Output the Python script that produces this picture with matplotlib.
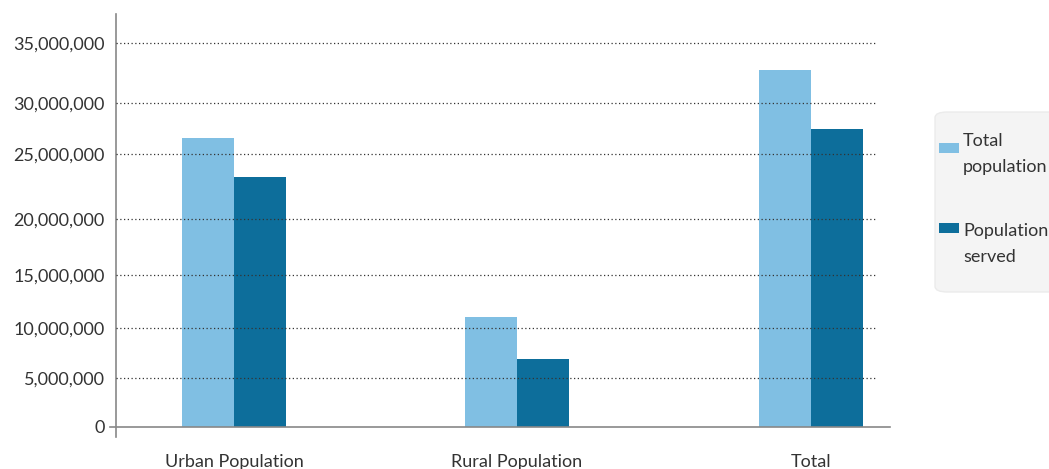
"""Population served vs total population, grouped bar chart."""

import matplotlib

matplotlib.use("Agg")
import matplotlib.pyplot as plt  # noqa: E402
import numpy as np  # noqa: E402
from matplotlib.patches import FancyBboxPatch, Rectangle  # noqa: E402
from matplotlib.ticker import FuncFormatter  # noqa: E402

categories = ["Urban Population", "Rural Population", "Total"]
total_population = [26_600_000, 11_000_000, 32_750_000]
population_served = [23_200_000, 6_900_000, 27_450_000]
series_labels = ["Total\npopulation", "Population\nserved"]
y_ticks = [0, 5_000_000, 10_000_000, 15_000_000, 20_000_000,
           25_000_000, 30_000_000, 35_000_000]

# The source chart spaces its gridlines unevenly; mimic that with a
# piecewise-linear scale through the tick values.
scale_values = [-5_000_000] + y_ticks + [45_000_000]
scale_pixels = [-49, 0, 49, 99, 152, 208, 273, 324, 384, 504]


def forward(v):
    return np.interp(v, scale_values, scale_pixels)


def inverse(p):
    return np.interp(p, scale_pixels, scale_values)


LIGHT = "#80bfe3"
DARK = "#0d6e9b"
W, H = 1049, 469
plt.rcParams["font.family"] = ["Lato", "DejaVu Sans"]

fig = plt.figure(figsize=(W / 100, H / 100), dpi=100)
ax = fig.add_axes([116 / W, 32 / H, 774 / W, 423 / H])
ax.set_yscale("function", functions=(forward, inverse))

x = np.array([0.0, 0.98, 2.0])  # slightly uneven group spacing, as in the source
width = 0.18
ax.bar(x - width / 2, total_population, width, color=LIGHT, zorder=2)
ax.bar(x + width / 2, population_served, width, color=DARK, zorder=2)

ax.set_xlim(-0.409, 2.274)
ax.set_ylim(-1_020_000, 37_400_000)

for t in y_ticks[1:]:
    ax.axhline(t, xmax=0.98, color="#333333", linestyle=(0, (1, 2)), linewidth=0.9, zorder=3)
ax.axhline(0, xmin=-0.008, color="#888888", linewidth=1.2, clip_on=False, zorder=4)

ax.set_yticks(y_ticks)
ax.yaxis.set_major_formatter(FuncFormatter(lambda v, _: f"{int(v):,}"))
ax.yaxis.set_minor_locator(matplotlib.ticker.NullLocator())
ax.set_xticks(x)
ax.set_xticklabels(categories)
ax.tick_params(axis="y", length=0, pad=8, labelsize=13, labelcolor="#333333")
ax.tick_params(axis="x", length=0, pad=12, labelsize=13, labelcolor="#333333")

for side in ("top", "right", "bottom"):
    ax.spines[side].set_visible(False)
ax.spines["left"].set_color("#888888")
ax.spines["left"].set_linewidth(1.2)

# Legend panel, drawn by hand so the padding matches the source (it runs off the right edge).
fig.patches.append(FancyBboxPatch(
    (935 / W, (H - 292) / H), 130 / W, 180 / H,
    boxstyle="round,pad=0,rounding_size=0.012",
    transform=fig.transFigure, facecolor="#f4f4f4", edgecolor="#ebebeb", linewidth=1,
))
for label, color, text_top, swatch_top in zip(series_labels, [LIGHT, DARK], [133, 223], [143, 223]):
    fig.patches.append(Rectangle(
        (939 / W, (H - swatch_top - 10) / H), 20 / W, 10 / H,
        transform=fig.transFigure, facecolor=color, edgecolor="none",
    ))
    fig.text(963 / W, (H - text_top) / H, label, fontsize=13, color="#333333",
             va="top", ha="left", linespacing=1.75)

fig.savefig("out.png", dpi=100)
